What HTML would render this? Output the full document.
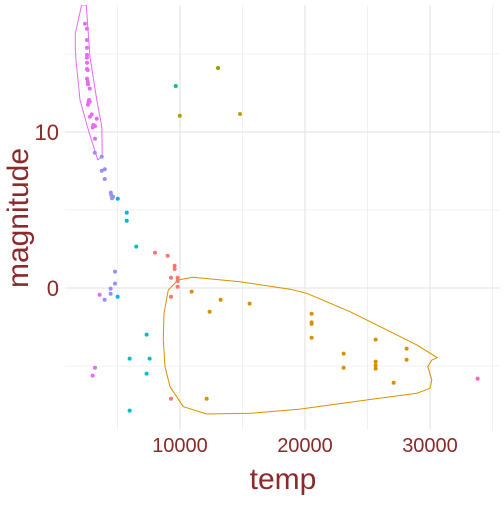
<!DOCTYPE html>
<html><head><meta charset="utf-8"><style>
html,body{margin:0;padding:0;background:#fff}
svg text{font-family:"Liberation Sans",sans-serif;fill:#8B2A2A}
</style></head><body>
<svg id="chart" width="504" height="504" viewBox="0 0 504 504" xmlns="http://www.w3.org/2000/svg">
<defs><clipPath id="clip"><rect x="65" y="5" width="435" height="425"/></clipPath></defs>
<g id="grid"></g>
<g id="outlines" clip-path="url(#clip)"></g>
<g id="pts" clip-path="url(#clip)"></g>
<g id="axes"></g>
<text x="283" y="489" font-size="30" text-anchor="middle">temp</text>
<text transform="translate(28,218) rotate(-90)" font-size="30" text-anchor="middle">magnitude</text>
</svg>
<script>
const xTicks=[10000,20000,30000];
const xMinor=[5000,15000,25000,35000];
const yTicks=[0,10];
const yMinor=[-5,5,15];
const groupColors=["#FF61C3","#9590FF","#00B0F6","#00BFC4","#00C08B","#7CAE00","#B79F00","#F8766D","#D89000","#E76BF3"];
const temps=[2400,2560,2560,2560,2560,2560,2560,2560,2620,2560,2620,2640,2780,2720,2670,2780,2640,2800,2940,3340,3070,3200,3020,3200,
3180,3740,3740,3980,3980,4460,4500,4640,4560,4800,4450,4450,3970,4800,
5020,5740,5740,5010,
6500,7330,5970,7570,7330,5970,
9660,13040,9980,14800,
8000,9010,9570,9570,9280,9810,9810,9810,9280,9280,
3570,3200,3010,33810,
10930,13250,15570,12370,12130,20530,20530,20530,20530,23090,23090,25650,25650,25650,25650,28130,28130,27090];
const mags=[16.94,16.62,15.90,15.40,14.94,14.76,14.44,14.04,13.97,13.42,13.22,13.06,12.78,12.05,11.90,11.94,11.75,10.98,11.13,10.85,10.45,10.38,10.30,9.57,
8.67,8.42,7.52,7.61,6.99,6.11,5.95,5.85,5.75,1.05,-0.04,-0.37,-0.75,0.28,
5.72,4.83,4.31,-0.56,
2.65,-2.99,-4.53,-4.53,-5.49,-7.86,
12.95,14.1,11.04,11.15,
2.26,2.07,1.43,1.22,0.66,0.66,0.45,0.08,-0.56,-7.1,
-0.43,-5.11,-5.62,-5.81,
-0.23,-0.75,-1.0,-1.52,-7.1,-1.65,-2.2,-2.3,-3.19,-4.21,-5.11,-3.31,-4.72,-4.96,-5.17,-3.89,-4.6,-6.07];
const groups=[9,9,9,9,9,9,9,9,9,9,9,9,9,9,9,9,9,9,9,9,9,9,9,9,
1,1,1,1,1,1,1,1,1,1,1,1,1,1,
2,2,2,2,
3,3,3,3,3,3,
4,5,6,6,
7,7,7,7,7,7,7,7,7,7,
9,9,9,0,
8,8,8,8,8,8,8,8,8,8,8,8,8,8,8,8,8,8];
const orangeOutlineT=[9840,11040,14800,18800,20140,23600,26260,28940,30580,30140,29820,30140,30000,28940,26260,23600,19600,15600,12140,10260,9200,8800,8660,8720,9060,9840];
const orangeOutlineM=[0.51,0.69,0.40,-0.08,-0.34,-1.52,-2.58,-3.65,-4.47,-4.62,-5.04,-5.9,-6.43,-6.75,-7.03,-7.33,-7.76,-8.03,-8.08,-7.61,-6.33,-5.04,-3.33,-1.62,-0.13,0.51];
const pinkOutlineT=[2130,1620,1620,1680,2000,2740,3420,3780,3740,3340,2800,2580,2500];
const pinkOutlineM=[18.14,16.3,15.4,14.6,12.05,9.92,8.21,8.42,10.34,12.05,14.8,17.18,18.14];
const NS="http://www.w3.org/2000/svg";
const sx=t=>180+(t-10000)*0.0125;
const sy=m=>288-m*15.6;
function mk(tag,attrs,parent){const e=document.createElementNS(NS,tag);for(const k in attrs)e.setAttribute(k,attrs[k]);parent.appendChild(e);return e;}
const grid=document.getElementById('grid'),axes=document.getElementById('axes');
xMinor.forEach(t=>{const l=mk('line',{x1:sx(t),x2:sx(t),y1:5,y2:430,stroke:'#ebebeb','stroke-width':0.7},grid);

});
yMinor.forEach(m=>{const l=mk('line',{x1:65,x2:500,y1:sy(m),y2:sy(m),stroke:'#ebebeb','stroke-width':0.7},grid);

});
xTicks.forEach(t=>{const l=mk('line',{x1:sx(t),x2:sx(t),y1:5,y2:430,stroke:'#e6e6e6','stroke-width':1.2},grid);


const tx=mk('text',{x:sx(t),y:452,'font-size':20,'text-anchor':'middle'},axes);tx.textContent=t;

});
yTicks.forEach(m=>{const l=mk('line',{x1:65,x2:500,y1:sy(m),y2:sy(m),stroke:'#e6e6e6','stroke-width':1.2},grid);


const tx=mk('text',{x:59,y:sy(m)+8,'font-size':22,'text-anchor':'end'},axes);tx.textContent=m;

});
const outl=document.getElementById('outlines');
function outline(T,M,color,name){const d=T.map((t,i)=>(i?'L':'M')+sx(t).toFixed(1)+','+sy(M[i]).toFixed(1)).join('')+'Z';
const p=mk('path',{d:d,fill:'none',stroke:color,'stroke-width':1,'stroke-linejoin':'round'},outl);

}
outline(orangeOutlineT,orangeOutlineM,'#D89000','orange-group-outline');
outline(pinkOutlineT,pinkOutlineM,'#E76BF3','pink-group-outline');
const pts=document.getElementById('pts');
temps.forEach((t,i)=>{const c=mk('circle',{cx:sx(t),cy:sy(mags[i]),r:2,fill:groupColors[groups[i]]},pts);

});
</script>
</body></html>
